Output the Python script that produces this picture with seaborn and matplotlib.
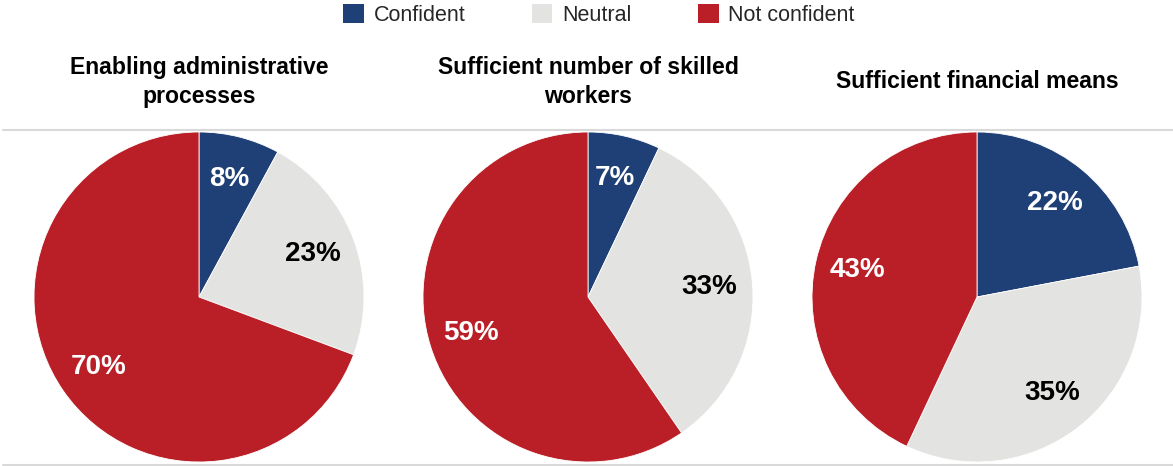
import numpy as np
import matplotlib
matplotlib.use("Agg")
import matplotlib.pyplot as plt
from matplotlib.lines import Line2D
from matplotlib.patches import Patch
import seaborn as sns

categories = ["Confident", "Neutral", "Not confident"]
titles = ["Enabling administrative\nprocesses",
          "Sufficient number of skilled\nworkers",
          "Sufficient financial means"]
values_admin = [8, 23, 70]
values_workers = [7, 33, 59]
values_finance = [22, 35, 43]
series = [values_admin, values_workers, values_finance]

colors = ["#1F3F77", "#E3E3E1", "#BA1F27"]
label_colors = ["white", "black", "white"]

sns.set_theme(style="white")
plt.rcParams["font.family"] = ["Liberation Sans", "DejaVu Sans"]

W, H = 1173, 466
fig = plt.figure(figsize=(W / 100, H / 100), dpi=100)

centers_x = [199, 588, 977]
cy = 297
R = 165

for vals, title, cx in zip(series, titles, centers_x):
    ax = fig.add_axes([(cx - R) / W, (H - cy - R) / H, 2 * R / W, 2 * R / H])
    wedges, _, autotexts = ax.pie(
        vals, colors=colors, startangle=90, counterclock=False,
        autopct=lambda p: f"{p:.0f}%", pctdistance=0.74,
        wedgeprops=dict(edgecolor="white", linewidth=0.6),
        textprops=dict(fontsize=20, fontweight="bold"))
    for t, v, c in zip(autotexts, vals, label_colors):
        t.set_text(f"{v}%")
        t.set_color(c)
    ax.set_xlim(-1, 1)
    ax.set_ylim(-1, 1)
    ax.set_aspect("equal")
    ax.axis("off")
    fig.text(cx / W, 1 - 82 / H, title, ha="center", va="center",
             fontsize=16.6, fontweight="bold", linespacing=1.33, color="black")

# separator lines
for yy in [130, 465]:
    fig.add_artist(Line2D([3 / W, 1.0], [1 - yy / H, 1 - yy / H],
                          transform=fig.transFigure, color="#D9D9D9", linewidth=1.5))

handles = [Patch(facecolor=c, edgecolor="none") for c in colors]
fig.legend(handles, categories, loc="center", bbox_to_anchor=(599 / W, 1 - 15 / H),
           ncol=3, frameon=False, fontsize=15.5, handlelength=0.95, handleheight=0.95,
           handletextpad=0.45, columnspacing=3.1, labelcolor="#262626")

fig.savefig("out.png", dpi=100)
